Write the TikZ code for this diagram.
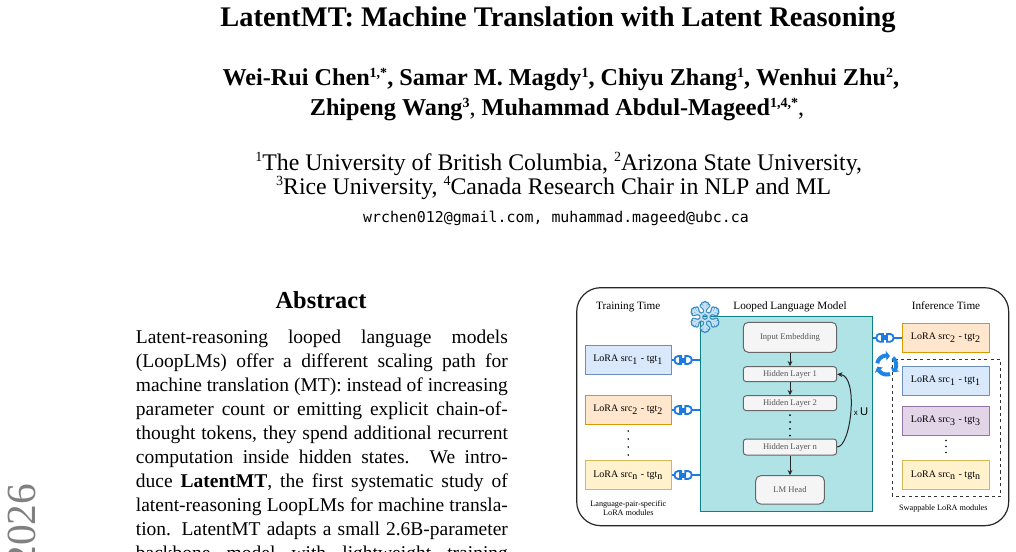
\documentclass[tikz,border=0pt]{standalone}
\usepackage{fontspec}
\setmainfont{Liberation Serif}
\newfontfamily\emailfont{DejaVu Sans Mono}
\newfontfamily\labsans{Liberation Sans}
\usetikzlibrary{arrows.meta,calc}
\definecolor{blueF}{HTML}{DAE8FC}\definecolor{blueD}{HTML}{6C8EBF}
\definecolor{orangeF}{HTML}{FFE6CC}\definecolor{orangeD}{HTML}{D79B00}
\definecolor{yellowF}{HTML}{FFF2CC}\definecolor{yellowD}{HTML}{D6B656}
\definecolor{purpleF}{HTML}{E1D5E7}\definecolor{purpleD}{HTML}{9673A6}
\definecolor{tealF}{HTML}{B0E3E6}\definecolor{tealD}{HTML}{0E8088}
\definecolor{grayF}{HTML}{F5F5F5}\definecolor{grayD}{HTML}{666666}
\definecolor{grayT}{HTML}{555555}
\definecolor{plugblue}{HTML}{1F7AE0}
\definecolor{refblue}{HTML}{1E84E6}
\definecolor{snowdark}{HTML}{3B8BC2}
\definecolor{snowlight}{HTML}{C4E2F5}
\definecolor{yeargray}{HTML}{808080}
\newcommand\supx[1]{\raisebox{0.36em}{\fontsize{7pt}{7pt}\selectfont #1}}
\begin{document}
\begin{tikzpicture}[x=0.5pt,y=-0.5pt,
  txt/.style={inner sep=0pt},
  lora/.style={draw, line width=0.5pt, minimum width=43.35pt, minimum height=14.3pt, inner sep=0pt,
               font=\fontsize{5.0pt}{6pt}\selectfont},
  graybox/.style={draw=grayD, fill=grayF, line width=0.5pt, inner sep=0pt, text=grayT,
               font=\fontsize{4.3pt}{5pt}\selectfont},
  head/.style={inner sep=0pt, anchor=base, font=\fontsize{5.6pt}{6pt}\selectfont},
  sublab/.style={inner sep=0pt, anchor=base, font=\fontsize{4.1pt}{5pt}\selectfont},
  arr/.style={draw=black!85, line width=0.5pt, -{Stealth[length=2.6pt,width=2.4pt]}},
  plugline/.style={draw=plugblue, line width=0.7pt},
  dots/.style={line width=1pt, line cap=round},
  plugicon/.pic={
    \draw[plugblue, line width=0.9pt, fill=white] (-4.7,-3.9) -- (-8,-3.9)
       arc[start angle=-90, end angle=-270, x radius=3.4, y radius=3.9] -- (-4.7,3.9) -- cycle;
    \fill[plugblue] (-6.6,-2.8) rectangle (-4.7,2.8);
    \draw[plugblue, line width=0.7pt] (-4.7,-1.8) -- (-0.7,-1.8) (-4.7,1.8) -- (-0.7,1.8);
    \draw[plugblue, line width=0.9pt, fill=white] (-0.7,-3.9) -- (2.5,-3.9)
       arc[start angle=-90, end angle=90, x radius=3.4, y radius=3.9] -- (-0.7,3.9) -- cycle;
  },
  snowicon/.pic={
    \foreach \w/\c in {2.1pt/snowdark, 0.9pt/snowlight}{
      \foreach \a in {30,90,...,330}{
        \draw[\c, line width=\w, line cap=round] (\a:4.2) -- (\a:14);
        \draw[\c, line width=\w, line cap=round] (\a:8) -- ++({\a+45}:4.8);
        \draw[\c, line width=\w, line cap=round] (\a:8) -- ++({\a-45}:4.8);
        \draw[\c, line width=\w, line cap=round] (\a:11.2) -- ++({\a+45}:2.8);
        \draw[\c, line width=\w, line cap=round] (\a:11.2) -- ++({\a-45}:2.8);
      }
      \draw[\c, line width=\w, line join=round] (30:4.2) -- (90:4.2) -- (150:4.2) -- (210:4.2) -- (270:4.2) -- (330:4.2) -- cycle;
    }
  },
  swapicon/.pic={
    \foreach \s in {190,310,70}{
      \draw[refblue, line width=2pt] plot[domain=\s:\s+78, samples=16] ({9.5*cos(\x)}, {9.5*sin(\x)});
      \fill[refblue] ({\s+100}:9.5) -- ({\s+76}:4.6) -- ({\s+76}:14.4) -- cycle;
    }
  }
]
\useasboundingbox (0,0) rectangle (1016,551);

% ---------- arXiv stamp ----------
\node[txt, rotate=90, anchor=base east, text=yeargray, font=\fontsize{20.7pt}{21pt}\selectfont] (year) at (35,483.3) {2026};

% ---------- title block ----------
\node[txt, anchor=base, font=\fontsize{14.2pt}{17pt}\selectfont\bfseries] (title) at (558,27) {LatentMT: Machine Translation with Latent Reasoning};
\node[txt, anchor=base, font=\fontsize{12.1pt}{14pt}\selectfont] (au1) at (560.8,86) {\textbf{Wei-Rui Chen\supx{1,*}, Samar M. Magdy\supx{1}, Chiyu Zhang\supx{1}, Wenhui Zhu\supx{2},}};
\node[txt, anchor=base, font=\fontsize{12.1pt}{14pt}\selectfont] (au2) at (557,116) {\textbf{Zhipeng Wang\supx{3}}, \textbf{Muhammad Abdul-Mageed\supx{1,4,*}},};
\node[txt, anchor=base, font=\fontsize{11.9pt}{14pt}\selectfont] (af1) at (558.7,170) {\supx{1}The University of British Columbia, \supx{2}Arizona State University,};
\node[txt, anchor=base, font=\fontsize{11.9pt}{14pt}\selectfont] (af2) at (553.7,194) {\supx{3}Rice University, \supx{4}Canada Research Chair in NLP and ML};
\node[txt, anchor=base, font=\emailfont\fontsize{7.45pt}{9pt}\selectfont] (mail) at (556,222) {wrchen012@gmail.com, muhammad.mageed@ubc.ca};

% ---------- abstract ----------
\node[txt, anchor=base, font=\fontsize{12.2pt}{14pt}\selectfont\bfseries] (abshead) at (321,308.3) {Abstract};
\begin{scope}[every node/.style={txt, anchor=base west, font=\fontsize{9.75pt}{12pt}\selectfont}]
\node (ab1) at (135.5,343.3) {\hbox to 186pt{Latent-reasoning looped language models}};
\node (ab2) at (135.5,367.3) {\hbox to 186pt{(LoopLMs) offer a different scaling path for}};
\node (ab3) at (135.5,391.3) {\hbox to 186pt{machine translation (MT): instead of increasing}};
\node (ab4) at (135.5,415.3) {\hbox to 186pt{parameter count or emitting explicit chain-of-}};
\node (ab5) at (135.5,439.3) {\hbox to 186pt{thought tokens, they spend additional recurrent}};
\node (ab6) at (135.5,463.3) {\hbox to 186pt{computation inside hidden states. We intro-}};
\node (ab7) at (135.5,487.3) {\hbox to 186pt{duce \textbf{LatentMT}, the first systematic study of}};
\node (ab8) at (135.5,511.3) {\hbox to 186pt{latent-reasoning LoopLMs for machine transla-}};
\node (ab9) at (135.5,535.3) {\hbox to 186pt{tion. LatentMT adapts a small 2.6B-parameter}};
\node (ab10) at (135.5,559.3) {\hbox to 186pt{backbone model with lightweight training}};
\end{scope}

% ---------- figure ----------
\draw[black!85, line width=0.6pt, rounded corners=12pt] (576.7,287.7) rectangle (1008.7,525.7);

\node[head] (htrain) at (628.3,309.5) {Training Time};
\node[head] (hloop) at (790,309.5) {Looped Language Model};
\node[head] (hinf) at (946,309.5) {Inference Time};

\node[draw=tealD, fill=tealF, line width=0.5pt, minimum width=86.35pt, minimum height=97.85pt, inner sep=0pt] (llm) at (786.35,413.85) {};
\pic at (705,317) {snowicon};

\node[graybox, rounded corners=2.5pt, minimum width=46.7pt, minimum height=15pt] (ie) at (790,337.3) {Input Embedding};
\node[graybox, rounded corners=1.5pt, minimum width=46.7pt, minimum height=7.5pt] (hl1) at (790,374.2) {Hidden Layer 1};
\node[graybox, rounded corners=1.5pt, minimum width=46.7pt, minimum height=7.5pt] (hl2) at (790,403.2) {Hidden Layer 2};
\node[graybox, rounded corners=1.5pt, minimum width=46.7pt, minimum height=8pt] (hln) at (790,447) {Hidden Layer n};
\node[graybox, rounded corners=2.5pt, minimum width=34.3pt, minimum height=14.15pt] (lmh) at (790,489.85) {LM Head};

\draw[arr] (ie) -- (hl1);
\draw[arr] (hl1) -- (hl2);
\draw[arr] (hln) -- (lmh);
\draw[dots, dash pattern=on 0pt off 3.4pt] ([yshift=-2pt]hl2.south) -- ([yshift=1pt]hln.north);
\draw[arr] (hln.east) .. controls (851,447) and (859,376) .. (hl1.east);
\node[txt, font=\labsans] (xu) at (861,411.7) {\fontsize{4pt}{5pt}\selectfont x \fontsize{5.6pt}{6pt}\selectfont U};

% left LoRA modules
\node[lora, fill=blueF, draw=blueD] (l1) at (628.35,360) {LoRA src\textsubscript{1} - tgt\textsubscript{1}};
\node[lora, fill=orangeF, draw=orangeD] (l2) at (628.35,410) {LoRA src\textsubscript{2} - tgt\textsubscript{2}};
\node[lora, fill=yellowF, draw=yellowD] (ln) at (628.35,475) {LoRA src\textsubscript{n} - tgt\textsubscript{n}};
\fill (628.3,431) circle (0.9) (628.3,439) circle (0.9) (628.3,447) circle (0.9) (628.3,455) circle (0.9);
\node[sublab] (lab1) at (628.3,506.7) {Language-pair-specific};
\node[sublab] (lab2) at (628.3,515.9) {LoRA modules};

\foreach \n in {l1,l2,ln}{
  \draw[plugline] (\n.east) -- (\n.east -| llm.west);
  \pic at ($(\n.east)!0.5!(\n.east -| llm.west)$) {plugicon};
}

% right LoRA modules
\node[lora, fill=orangeF, draw=orangeD] (r2) at (946,337.8) {LoRA src\textsubscript{2} - tgt\textsubscript{2}};
\draw[plugline] (r2.west -| llm.east) -- (r2.west);
\pic at ($(r2.west -| llm.east)!0.5!(r2.west)$) {plugicon};

\draw[black!80, line width=0.5pt, dash pattern=on 1.6pt off 1.6pt] (892.7,359) rectangle (1000.7,496.7);
\node[lora, fill=blueF, draw=blueD] (r1) at (946,380.85) {LoRA src\textsubscript{1} - tgt\textsubscript{1}};
\node[lora, fill=purpleF, draw=purpleD] (r3) at (946,420.85) {LoRA src\textsubscript{3} - tgt\textsubscript{3}};
\node[lora, fill=yellowF, draw=yellowD] (rn) at (946,474.85) {LoRA src\textsubscript{n} - tgt\textsubscript{n}};
\fill (946,440.5) circle (0.9) (946,446.5) circle (0.9) (946,452.5) circle (0.9);
\node[sublab] (lab3) at (943.3,510) {Swappable LoRA modules};

% swap (refresh) icon
\pic at (886.7,365) {swapicon};
\end{tikzpicture}
\end{document}
